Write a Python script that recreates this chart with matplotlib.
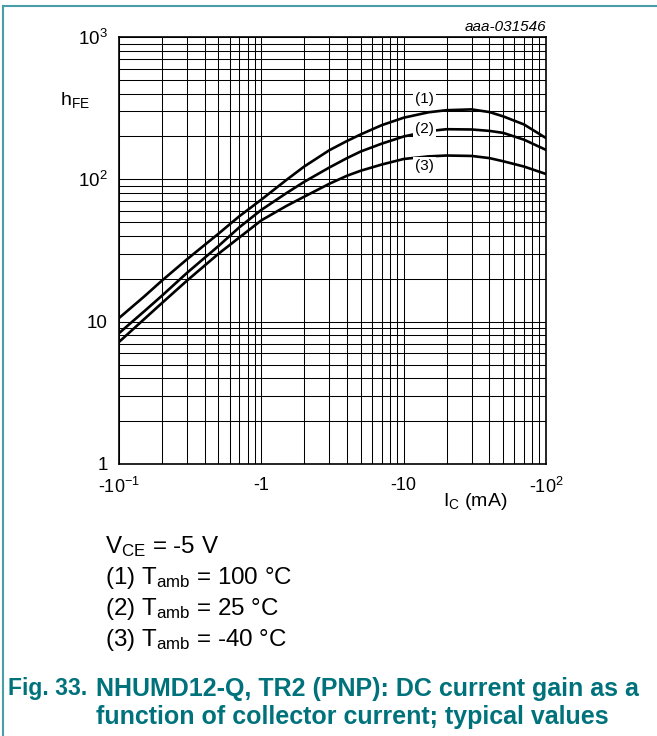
import matplotlib
matplotlib.use('Agg')
import matplotlib.pyplot as plt
from matplotlib.lines import Line2D
from matplotlib.ticker import LogLocator, NullFormatter, FixedLocator, FixedFormatter

plt.rcParams['font.family'] = ['Liberation Sans', 'DejaVu Sans']
plt.rcParams['mathtext.fontset'] = 'custom'
plt.rcParams['mathtext.rm'] = 'Liberation Sans'
plt.rcParams['mathtext.it'] = 'Liberation Sans:italic'
plt.rcParams['mathtext.bf'] = 'Liberation Sans:bold'

# collector current magnitude (mA) and hFE for the three temperatures
ic = [0.1, 0.15, 0.2, 0.3, 0.5, 0.7, 1, 1.5, 2, 3, 4, 5, 7, 10, 15, 20, 30, 40, 50, 70, 100]
h_100 = [10.6, 15.0, 19.4, 27.4, 41.5, 55, 72, 99, 123, 160, 186, 207, 240, 271, 296, 306, 310, 297, 277, 243, 195]
h_25 = [8.3, 11.8, 15.2, 22, 34, 46, 61, 80, 96, 121, 141, 157, 178, 200, 218, 225, 224, 219, 212, 190, 161]
h_m40 = [7.2, 10.4, 13.5, 19.4, 30, 39, 51.5, 65, 75.5, 93, 106, 115, 127, 139, 145, 147, 146, 141, 134, 123, 109]
curve_labels = ['(1)', '(2)', '(3)']
xticks = [0.1, 1, 10, 100]
xtick_labels = [r'-10$^{\mathregular{-1}}$', '-1', '-10', r'-10$^{\mathregular{2}}$']
yticks = [1, 10, 100, 1000]
ytick_labels = ['1', '10', r'10$^{\mathregular{2}}$', r'10$^{\mathregular{3}}$']

W, H = 657, 736
fig = plt.figure(figsize=(W / 100, H / 100), dpi=100)
ax = fig.add_axes([119 / W, 1 - 464 / H, 427 / W, 427 / H])

for h in (h_100, h_25, h_m40):
    ax.plot(ic, h, color='black', lw=1.9, zorder=3, solid_joinstyle='round')

ax.set_xscale('log')
ax.set_yscale('log')
ax.set_xlim(0.1, 100)
ax.set_ylim(1, 1000)

ax.xaxis.set_major_locator(FixedLocator(xticks))
ax.xaxis.set_major_formatter(FixedFormatter(xtick_labels))
ax.yaxis.set_major_locator(FixedLocator(yticks))
ax.yaxis.set_major_formatter(FixedFormatter(ytick_labels))
for a in (ax.xaxis, ax.yaxis):
    a.set_minor_locator(LogLocator(base=10, subs=range(2, 10)))
    a.set_minor_formatter(NullFormatter())
ax.tick_params(which='both', length=0)
ax.tick_params(axis='x', labelsize=13, pad=9)
ax.tick_params(axis='y', labelsize=13.5, pad=8)
ax.grid(True, which='both', color='black', lw=0.75, zorder=1)
for s in ax.spines.values():
    s.set_linewidth(1.2)

# curve labels with white background
lab_pos = [(14.1, 367), (14.1, 226), (14.1, 124)]
for (x, y), t in zip(lab_pos, curve_labels):
    ax.text(x, y, t, ha='center', va='center', fontsize=11, zorder=4,
            bbox=dict(facecolor='white', edgecolor='none', pad=1.5))

fig.text(60 / W, 1 - 100 / H, r'h$_{\mathregular{FE}}$', fontsize=14, ha='left', va='center')
fig.text(443 / W, 1 - 502 / H, r'I$_{\mathregular{C}}$ (mA)', fontsize=14, ha='left', va='center')
fig.text(546 / W, 1 - 27 / H, 'aaa-031546', fontsize=11, style='italic', ha='right', va='center')

cond = [r'V$_{\mathregular{CE}}$ = -5 V',
        r'(1) T$_{\mathregular{amb}}$ = 100 °C',
        r'(2) T$_{\mathregular{amb}}$ = 25 °C',
        r'(3) T$_{\mathregular{amb}}$ = -40 °C']
for i, t in enumerate(cond):
    fig.text(105 / W, 1 - (547 + 31 * i) / H, t, fontsize=17.4, ha='left', va='center')

teal = '#00727c'
fig.text(8 / W, 1 - 689 / H, 'Fig. 33.', fontsize=16.5, weight='bold', color=teal, ha='left', va='center')
fig.text(96 / W, 1 - 689 / H, 'NHUMD12-Q, TR2 (PNP): DC current gain as a',
         fontsize=18, weight='bold', color=teal, ha='left', va='center')
fig.text(96 / W, 1 - 717 / H, 'function of collector current; typical values',
         fontsize=18, weight='bold', color=teal, ha='left', va='center')

frame = '#4a9ca6'
fig.add_artist(Line2D([3 / W, 1], [1 - 6 / H, 1 - 6 / H], color=frame, lw=1.5))
fig.add_artist(Line2D([3 / W, 3 / W], [0, 1 - 6 / H], color=frame, lw=1.5))

fig.savefig('out.png', dpi=100)
